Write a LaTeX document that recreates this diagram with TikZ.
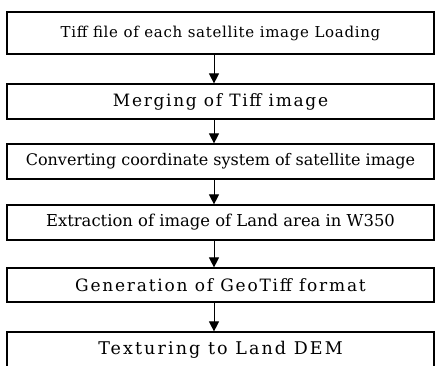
\documentclass[tikz,border=0pt]{standalone}
\usepackage{fontspec}
\setmainfont{DejaVu Serif}
\usetikzlibrary{arrows.meta}
\tikzstyle{stagebox}=[rectangle,draw,line width=1.2pt,minimum width=427pt,inner sep=0pt]
\tikzstyle{flow} = [draw,line width=1pt,-{Triangle[width=10pt,length=10pt]}]

\begin{document}
\begin{tikzpicture}[x=1pt,y=-1pt]
    \useasboundingbox (0,0) rectangle (435,365);
    \clip (0,0) rectangle (435,365);
    \fill[white] (0,0) rectangle (435,365);
    % First we draw the stages
    \foreach \pos/\name/\hgt/\fs/\ls/\txt in {
        {(220.5,33)/b1/42/15/4.7/Tiff file of each satellite image Loading},
        {(220.5,101.5)/b2/35/17/10/Merging of Tiff image},
        {(220.5,161.5)/b3/35/16/0/Converting coordinate system of satellite image},
        {(220.5,222.5)/b4/35/16.4/0/Extraction of image of Land area in W350},
        {(220.5,285)/b5/34/17/10.5/Generation of GeoTiff format},
        {(220.5,350)/b6/36/17.5/12/Texturing to Land DEM}}
        \node[stagebox, minimum height=\hgt pt,
              font=\fontsize{\fs}{\fs}\selectfont\addfontfeature{LetterSpace=\ls}] (\name) at \pos {\txt};
    % Connect stages with arrows
    \foreach \source/ \dest in {b1/b2, b2/b3, b3/b4, b4/b5, b5/b6}
        \path[flow] ([xshift=-6.5pt]\source.south) -- ([xshift=-6.5pt]\dest.north);
\end{tikzpicture}
\end{document}
